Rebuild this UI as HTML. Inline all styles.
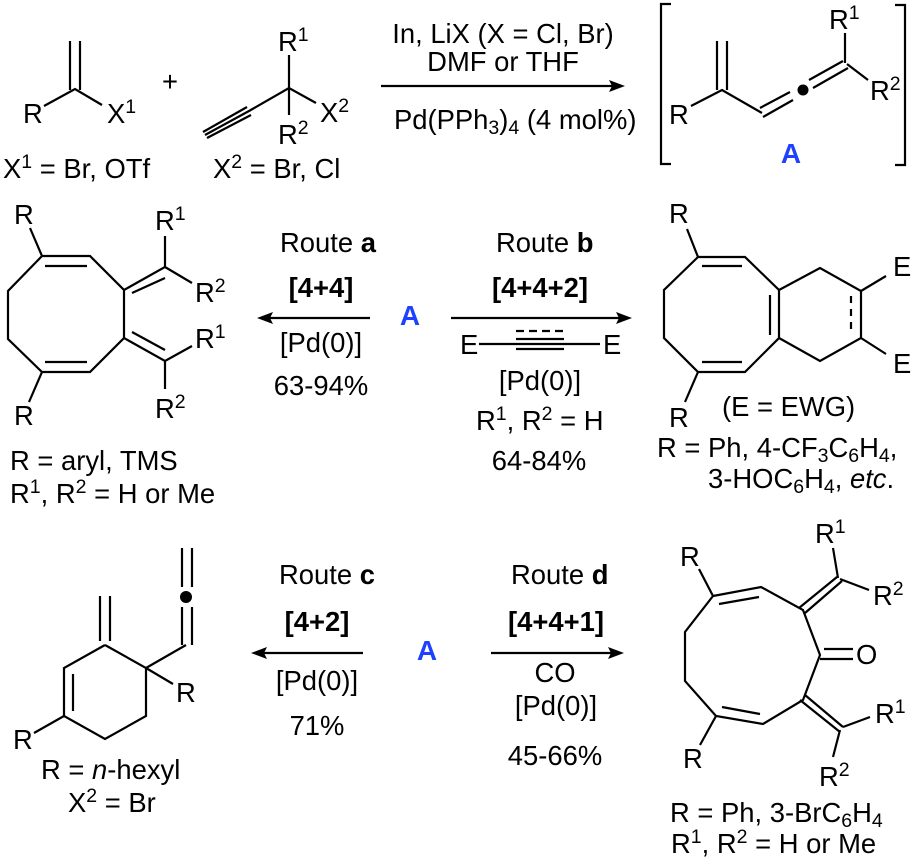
<!DOCTYPE html>
<html><head><meta charset="utf-8"><style>
html,body{margin:0;padding:0;background:#fff}
svg{display:block}
text{font-family:"Liberation Sans",Arial,sans-serif;font-size:27.4px;fill:#000;white-space:pre}
.b{font-weight:bold}
.a{font-weight:bold;fill:#2040ff;text-anchor:middle;font-size:28px}
.s{font-size:19.5px}
.m{text-anchor:middle}
path{fill:none;stroke:#000;stroke-width:2.2}
.h{fill:#000;stroke:none}
</style></head><body>
<svg width="911" height="861" viewBox="0 0 911 861" xmlns="http://www.w3.org/2000/svg">
<!-- top reagents -->
<path d="M70 41V90M80 41V90M44 106L75 89L102 105"/>
<path d="M289 55V115M316 103L289 88L249 111M203 132L247 107M205 135L249 111M207 138L251 115"/>
<text x="23" y="123">R</text>
<text x="107" y="123">X<tspan class="s" dy="-10">1</tspan></text>
<text x="162" y="91">+</text>
<text x="278" y="51">R<tspan class="s" dy="-10">1</tspan></text>
<text x="278" y="144">R<tspan class="s" dy="-10">2</tspan></text>
<text x="320" y="122">X<tspan class="s" dy="-10">2</tspan></text>
<text x="3" y="178">X<tspan class="s" dy="-10">1</tspan><tspan dy="10"> = Br, OTf</tspan></text>
<text x="213" y="178">X<tspan class="s" dy="-10">2</tspan><tspan dy="10"> = Br, Cl</tspan></text>
<!-- top arrow -->
<path d="M381 86H612"/><path class="h" d="M625 86L609 80L612 86L609 92Z"/>
<text class="m" x="503" y="43">In, LiX (X = Cl, Br)</text>
<text class="m" x="503" y="71">DMF or THF</text>
<text x="394" y="129">Pd(PPh<tspan class="s" dy="5">3</tspan><tspan dy="-5">)</tspan><tspan class="s" dy="5">4</tspan><tspan dy="-5"> (4 mol%)</tspan></text>
<!-- A structure -->
<path d="M671 4H661V164H671M895 5H905V165H895"/>
<path d="M691 106L722 90L762 113M717 41V90M727 41V90M760 108L790 92M763 117L793 100M809 80L843 61M813 88L848 68M845 63V33M847 64L868 80"/>
<circle cx="803" cy="90" r="5.5" fill="#000"/>
<text x="669" y="124">R</text>
<text x="829" y="29">R<tspan class="s" dy="-10">1</tspan></text>
<text x="870" y="100">R<tspan class="s" dy="-10">2</tspan></text>
<text class="a" x="791" y="163">A</text>
<!-- left cyclooctadiene -->
<path d="M42 256H90L124 290V338L90 372H42L8 339V291L42 256M45 266H87M45 362H87M30 228L42 256M42 372L29 402"/>
<path d="M124 290L165 267V236M165 267L192 283M132 293L165 278M124 338L165 361L192 346M165 361V389M132 332L165 350"/>
<text x="14" y="224">R</text>
<text x="14" y="425">R</text>
<text x="155" y="230">R<tspan class="s" dy="-10">1</tspan></text>
<text x="195" y="302">R<tspan class="s" dy="-10">2</tspan></text>
<text x="195" y="348">R<tspan class="s" dy="-10">1</tspan></text>
<text x="155" y="418">R<tspan class="s" dy="-10">2</tspan></text>
<text x="10" y="470">R = aryl, TMS</text>
<text x="10" y="503">R<tspan class="s" dy="-10">1</tspan><tspan dy="10">, R</tspan><tspan class="s" dy="-10">2</tspan><tspan dy="10"> = H or Me</tspan></text>
<!-- route a -->
<text x="280" y="252">Route <tspan class="b">a</tspan></text>
<text class="b m" x="321" y="297">[4+4]</text>
<path d="M370 318H268"/><path class="h" d="M257 318L273 312L270 318L273 324Z"/>
<text class="a" x="410" y="325">A</text>
<text class="m" x="321" y="352">[Pd(0)]</text>
<text class="m" x="321" y="395">63-94%</text>
<!-- route b -->
<text x="496" y="252">Route <tspan class="b">b</tspan></text>
<text class="b m" x="540" y="297">[4+4+2]</text>
<path d="M451 318H620"/><path class="h" d="M632 318L616 312L619 318L616 324Z"/>
<text x="460" y="354">E</text><text x="603" y="354">E</text>
<path d="M479 344H600" stroke-width="1.6"/>
<path d="M516 339H564M516 349H564"/>
<path d="M516 331H564" stroke-dasharray="8 5"/>
<text class="m" x="540" y="390">[Pd(0)]</text>
<text x="476" y="430">R<tspan class="s" dy="-10">1</tspan><tspan dy="10">, R</tspan><tspan class="s" dy="-10">2</tspan><tspan dy="10"> = H</tspan></text>
<text class="m" x="539" y="470">64-84%</text>
<!-- right bicycle -->
<path d="M698 257H745L779 290V338L745 372H698L664 338V290L698 257M702 266H742M702 362H742M770 295V335M779 290L820 268L861 291V338L820 361L779 338M687 229L698 257M698 372L685 402M861 291L886 276M861 338L886 354"/>
<path d="M851 296V333" stroke-dasharray="7 6"/>
<text x="669" y="223">R</text><text x="669" y="427">R</text>
<text x="893" y="276">E</text><text x="893" y="373">E</text>
<text x="722" y="416">(E = EWG)</text>
<text x="657" y="457">R = Ph, 4-CF<tspan class="s" dy="5">3</tspan><tspan dy="-5">C</tspan><tspan class="s" dy="5">6</tspan><tspan dy="-5">H</tspan><tspan class="s" dy="5">4</tspan><tspan dy="-5">,</tspan></text>
<text x="708" y="488">3-HOC<tspan class="s" dy="5">6</tspan><tspan dy="-5">H</tspan><tspan class="s" dy="5">4</tspan><tspan dy="-5">, <tspan font-style="italic">etc</tspan>.</tspan></text>
<!-- lower left -->
<path d="M105 645L146 668V716L105 739L64 716V668L105 645M73 674V711M100 596V641M110 596V641M146 668L186 645M182 607V645M192 607V645M182 548V587M192 548V587M146 668L173 684M64 716L34 733"/>
<circle cx="186" cy="597" r="6" fill="#000"/>
<text x="176" y="702">R</text><text x="13" y="749">R</text>
<text x="41" y="779">R = <tspan font-style="italic">n</tspan>-hexyl</text>
<text x="68" y="812">X<tspan class="s" dy="-10">2</tspan><tspan dy="10"> = Br</tspan></text>
<!-- route c -->
<text x="279" y="584">Route <tspan class="b">c</tspan></text>
<text class="b m" x="317" y="631">[4+2]</text>
<path d="M363 653H262"/><path class="h" d="M251 653L267 647L264 653L267 659Z"/>
<text class="m" x="317" y="690">[Pd(0)]</text>
<text class="m" x="317" y="735">71%</text>
<text class="a" x="427" y="660">A</text>
<!-- route d -->
<text x="511" y="584">Route <tspan class="b">d</tspan></text>
<text class="b m" x="556" y="631">[4+4+1]</text>
<path d="M491 653H612"/><path class="h" d="M624 653L608 647L611 653L608 659Z"/>
<text class="m" x="555" y="682">CO</text>
<text class="m" x="556" y="715">[Pd(0)]</text>
<text class="m" x="555" y="765">45-66%</text>
<!-- lower right -->
<path d="M713 596L761 587L803 610L820 655L803 700L763 724L716 716L685 681V632L713 596M719 604L759 597M722 707L760 714M699 569L713 596M716 716L700 745"/>
<path d="M805 613L842 581M799 608L837 577M838 578L833 548M840 579L869 590M824 649H853M820 659H853M800 700L840 732M805 695L843 727M843 727L870 717M840 730L833 757"/>
<text x="680" y="566">R</text><text x="683" y="768">R</text>
<text x="815" y="543">R<tspan class="s" dy="-10">1</tspan></text>
<text x="873" y="605">R<tspan class="s" dy="-10">2</tspan></text>
<text x="856" y="664">O</text>
<text x="875" y="723">R<tspan class="s" dy="-10">1</tspan></text>
<text x="819" y="786">R<tspan class="s" dy="-10">2</tspan></text>
<text x="670" y="822">R = Ph, 3-BrC<tspan class="s" dy="5">6</tspan><tspan dy="-5">H</tspan><tspan class="s" dy="5">4</tspan></text>
<text x="671" y="853">R<tspan class="s" dy="-10">1</tspan><tspan dy="10">, R</tspan><tspan class="s" dy="-10">2</tspan><tspan dy="10"> = H or Me</tspan></text>
</svg>
</body></html>
